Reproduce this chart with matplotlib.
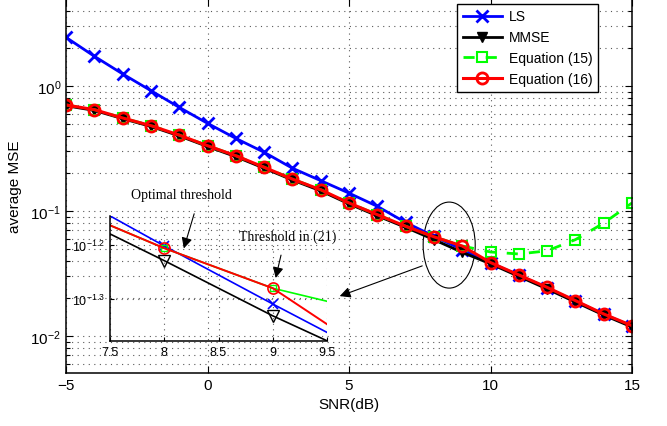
import numpy as np
import matplotlib
matplotlib.use("Agg")
import matplotlib.pyplot as plt
from matplotlib.patches import Ellipse
from matplotlib.ticker import LogLocator, NullLocator, NullFormatter

plt.rcParams['font.family'] = ['Liberation Sans', 'DejaVu Sans']
plt.rcParams['mathtext.default'] = 'regular'

snr = [-5, -4, -3, -2, -1, 0, 1, 2, 3, 4, 5, 6, 7, 8, 9, 10, 11, 12, 13, 14, 15]
ls = [2.45, 1.73, 1.25, 0.918, 0.675, 0.503, 0.381, 0.295, 0.22, 0.175, 0.139,
      0.109, 0.081, 0.0628, 0.0491, 0.0386, 0.0305, 0.0243, 0.019, 0.0149, 0.012]
mmse = [0.695, 0.638, 0.548, 0.475, 0.399, 0.328, 0.272, 0.220, 0.177, 0.145, 0.114,
        0.0915, 0.074, 0.059, 0.0467, 0.0378, 0.0300, 0.0238, 0.0187, 0.0147, 0.0118]
eq15 = [0.705, 0.647, 0.555, 0.482, 0.405, 0.333, 0.277, 0.224, 0.180, 0.148, 0.116,
        0.0935, 0.0755, 0.0622, 0.0525, 0.047, 0.0453, 0.048, 0.059, 0.080, 0.116]
eq16 = [0.705, 0.647, 0.555, 0.482, 0.405, 0.333, 0.277, 0.224, 0.180, 0.148, 0.116,
        0.0935, 0.0755, 0.0622, 0.0525, 0.0387, 0.0308, 0.0245, 0.0192, 0.0150, 0.0121]
labels = ['LS', 'MMSE', 'Equation (15)', 'Equation (16)']

W, H = 667, 427
fig = plt.figure(figsize=(W/100, H/100), dpi=100)
ax = fig.add_axes([66/W, (H-374)/H, 566/W, 374/H])

gstyle = dict(color='0.35', linestyle=(0, (1, 4)), linewidth=0.8)
green = '#00ff00'

ax.plot(snr, ls, '-', color='b', lw=2, marker='x', ms=8, mew=2, label=labels[0])
ax.plot(snr, mmse, '-', color='k', lw=2, marker='v', ms=7, mfc='k', label=labels[1])
ax.plot(snr, eq15, '--', color=green, lw=2, marker='s', ms=7, mfc='none', mew=1.5,
        dashes=(4, 4), label=labels[2])
ax.plot(snr, eq16, '-', color='r', lw=2.2, marker='o', ms=8, mfc='none', mew=2, label=labels[3])

ax.set_yscale('log')
ax.set_xlim(-5, 15)
ax.set_ylim(10**-2.296, 10**0.696)
ax.set_xticks([-5, 0, 5, 10, 15])
ax.set_xticklabels(['\u22125', '0', '5', '10', '15'])
ax.yaxis.set_major_locator(LogLocator(base=10, numticks=10))
ax.yaxis.set_minor_locator(LogLocator(base=10, subs=np.arange(2, 10), numticks=20))
ax.yaxis.set_minor_formatter(NullFormatter())
ax.tick_params(which='both', direction='in', top=True, right=True, labelsize=11, width=0.8)
ax.tick_params(which='major', length=5)
ax.tick_params(which='minor', length=3)
ax.grid(True, which='major', **gstyle)
ax.grid(True, which='minor', axis='y', **gstyle)
for s in ax.spines.values():
    s.set_linewidth(1.1)

ax.set_xlabel('SNR(dB)', fontsize=11, labelpad=4)
ax.set_ylabel('average MSE', fontsize=11, labelpad=6)

leg = ax.legend(loc='upper right', bbox_to_anchor=(0.940, 0.987), fontsize=10,
                handlelength=2.8, labelspacing=0.5, fancybox=False, framealpha=1,
                edgecolor='k', borderaxespad=0, handletextpad=0.5)
leg.get_frame().set_linewidth(1)

ell = Ellipse((0.677, 0.342), 0.092, 0.230, transform=ax.transAxes,
              fill=False, edgecolor='k', lw=0.8)
ax.add_patch(ell)
ax.annotate('', xy=(0.479, 0.203), xytext=(0.634, 0.289), xycoords='axes fraction',
            arrowprops=dict(arrowstyle='-|>', color='k', lw=0.8, mutation_scale=16))

# inset
ai = fig.add_axes([110/W, (H-342)/H, 217/W, 125/H])
ai.patch.set_alpha(0)
ai.plot(snr, ls, '-', color='b', lw=1.2, marker='x', ms=7, mew=1.2)
ai.plot(snr, mmse, '-', color='k', lw=1.2, marker='v', ms=8, mfc='none', mew=1)
ai.plot(snr, eq15, '-', color=green, lw=1.2, marker='s', ms=5, mfc='none', mew=1)
ai.plot(snr, eq16, '-', color='r', lw=1.4, marker='o', ms=8, mfc='none', mew=1.2)
ai.set_yscale('log')
ai.set_xlim(7.5, 9.5)
ai.set_ylim(10**-1.377, 10**-1.147)
ai.set_xticks([7.5, 8, 8.5, 9, 9.5])
ai.set_xticklabels(['7.5', '8', '8.5', '9', '9.5'])
ai.set_yticks([10**-1.3, 10**-1.2])
ai.set_yticklabels(['$10^{-1.3}$', '$10^{-1.2}$'])
ai.yaxis.set_minor_locator(NullLocator())
ai.tick_params(which='both', direction='in', labelsize=9, length=3)
ai.grid(True, **gstyle)
ai.spines['top'].set_visible(False)
ai.spines['right'].set_visible(False)
for s in ['left', 'bottom']:
    ai.spines[s].set_linewidth(1.1)

ai.text(8.154, 10**-1.107, 'Optimal threshold', family='Liberation Serif',
        fontsize=10, ha='center', va='center')
ai.annotate('', xy=(8.173, 10**-1.2116), xytext=(8.283, 10**-1.138),
            annotation_clip=False,
            arrowprops=dict(arrowstyle='-|>', color='k', lw=0.8, mutation_scale=16))
ai.text(9.14, 10**-1.184, 'Threshold in (21)', family='Liberation Serif',
        fontsize=10, ha='center', va='center')
ai.annotate('', xy=(9.021, 10**-1.266), xytext=(9.082, 10**-1.214),
            annotation_clip=False,
            arrowprops=dict(arrowstyle='-|>', color='k', lw=0.8, mutation_scale=16))

fig.savefig('out.png', dpi=100)
